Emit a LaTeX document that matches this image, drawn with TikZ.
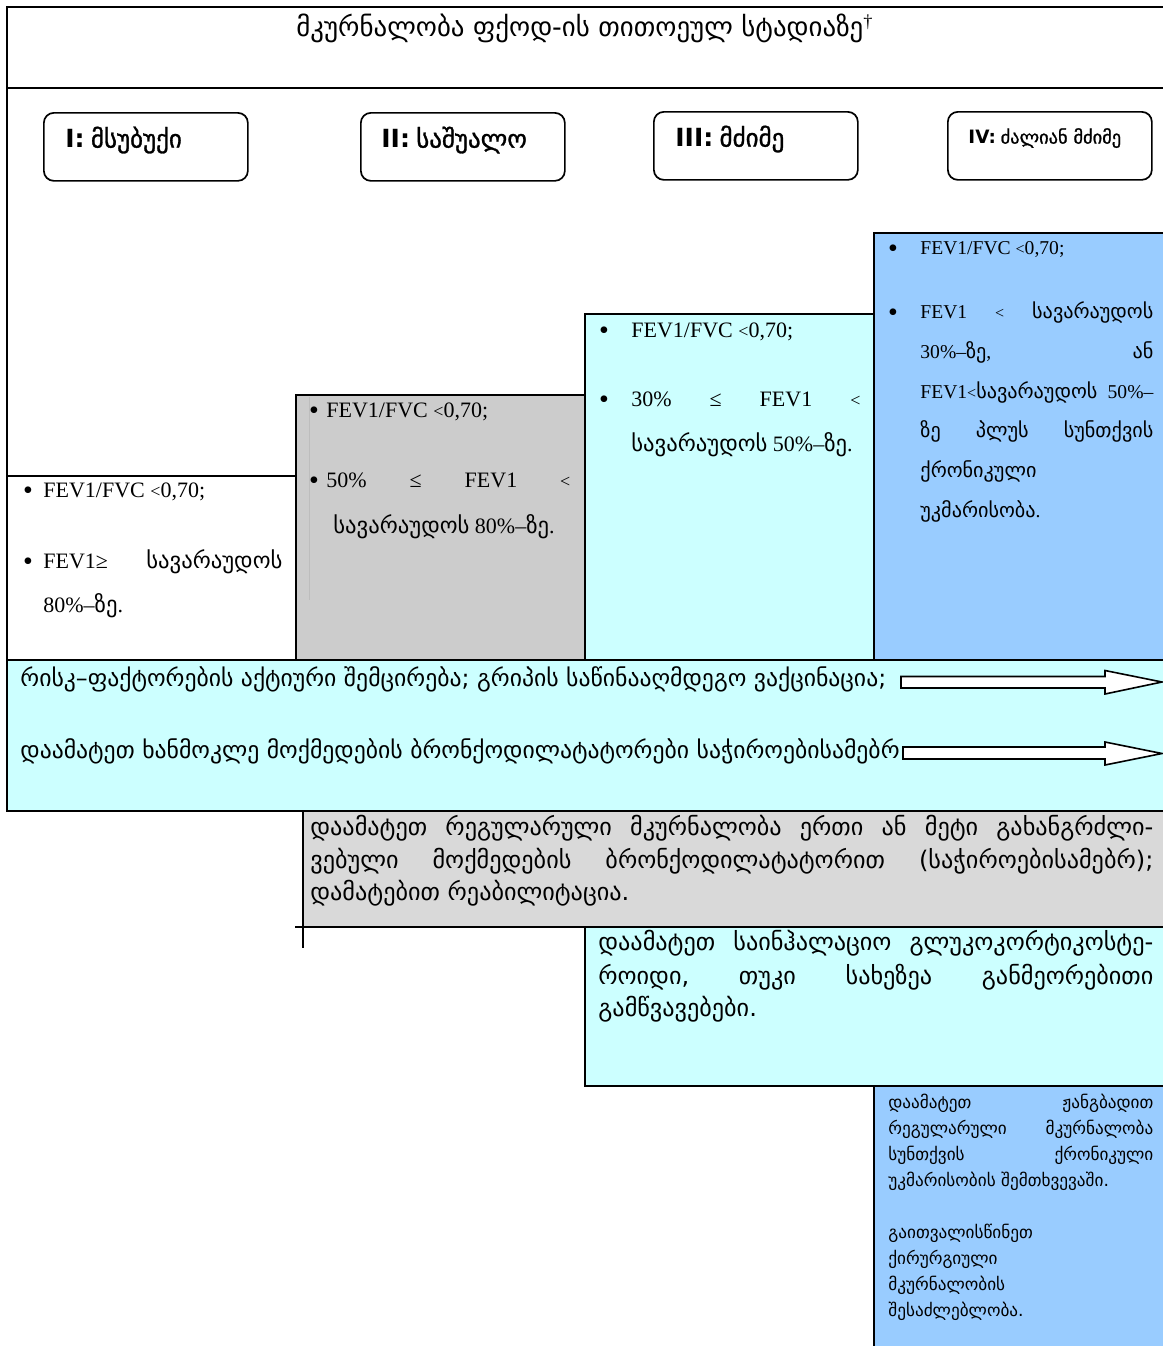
\documentclass[tikz,border=0pt]{standalone}
\usepackage{fontspec}
\setmainfont{Liberation Serif}
\newfontfamily\geo[Scale=1.03]{DejaVu Sans}
\newfontfamily\labsans{DejaVu Sans}
\newfontfamily\labgeo[BoldFont={DejaVu Sans},BoldFeatures={FakeBold=1.2}]{DejaVu Sans}
\definecolor{cellgray}{HTML}{CCCCCC}
\definecolor{boxgray}{HTML}{D9D9D9}
\definecolor{cellcyan}{HTML}{CCFFFF}
\definecolor{cellblue}{HTML}{99CCFF}
\definecolor{faintrule}{HTML}{BDBDBD}
\newcommand\kat[1]{{\geo #1}}
\newcommand\jline[2]{\hbox to #1{#2}}
\newcommand\stagename[2]{{\labsans\bfseries #1} {\labgeo\bfseries #2}}

\tikzset{
  rule/.style={line width=1pt, line cap=rect},
  stagebox/.style={draw, line width=0.85pt, rounded corners=5pt, minimum width=102pt,
    minimum height=34pt, anchor=north west, inner sep=0},
  stagelabel/.style={anchor=mid west, inner sep=0, font=\fontsize{12.5}{14}\selectfont},
  bodytext/.style={anchor=mid west, inner sep=0, yshift=-1pt, font=\fontsize{11}{13}\selectfont},
  bodysmall/.style={anchor=mid west, inner sep=0, yshift=-0.5pt, font=\fontsize{9.8}{12}\selectfont},
  bul/.style={anchor=center, inner sep=0, yshift=-1pt, font=\fontsize{14}{14}\selectfont},
  bandtext/.style={anchor=mid west, inner sep=0, font=\geo\fontsize{11.5}{13}\selectfont},
  boxtext/.style={anchor=mid west, inner sep=0, font=\geo\fontsize{11.75}{14}\selectfont},
  smalltext/.style={anchor=mid west, inner sep=0, font=\geo\fontsize{8.35}{10}\selectfont},
  fatarrow/.style={draw, fill=white, line width=0.8pt, line join=miter},
}

\begin{document}
\begin{tikzpicture}[x=0.5pt, y=-0.5pt]
\useasboundingbox (0,0) rectangle (1163,1346);
\clip (0,0) rectangle (1163,1346);

% coloured cells of the stage columns and treatment rows
\fill[cellgray] (296,395) rectangle (585,660);
\fill[cellcyan] (585,314) rectangle (874,660);
\fill[cellblue] (874,233) rectangle (1163,660);
\fill[cellcyan] (7,660) rectangle (1163,811);
\fill[boxgray] (303,811) rectangle (1163,927);
\fill[cellcyan] (585,927) rectangle (1163,1086);
\fill[cellblue] (874,1086) rectangle (1163,1346);
\draw[faintrule, line width=0.4pt] (309,397) -- (309,600);

% heading
\node[font=\fontsize{13.05}{15}\selectfont, inner sep=0] (title) at (585,28)
  {\kat{მკურნალობა ფქოდ-ის თითოეულ სტადიაზე}\textsuperscript{†}};

% stage boxes
\node[stagebox] (stI) at (43,112) {};
\node[stagebox] (stII) at (360,112) {};
\node[stagebox] (stIII) at (653,111) {};
\node[stagebox] (stIV) at (947,111) {};
\node[stagelabel] (labI) at (65,143) {\stagename{I:}{მსუბუქი}};
\node[stagelabel] (labII) at (381,143) {\stagename{II:}{საშუალო}};
\node[stagelabel] (labIII) at (675,142) {\stagename{III:}{მძიმე}};
\node[stagelabel, font=\fontsize{9.2}{11}\selectfont] (labIV) at (968,139)
  {\stagename{IV:}{ძალიან მძიმე}};

% stage I
\node[bul] (c1b1) at (28,491) {\textbullet};
\node[bodytext] (c1t1) at (43,491) {FEV1/FVC {\small<}0,70;};
\node[bul] (c1b2) at (28,562) {\textbullet};
\node[bodytext] (c1t2) at (43,562) {\jline{119.5pt}{FEV1≥\hfill\kat{სავარაუდოს}}};
\node[bodytext] (c1t3) at (43,606) {80\%–\kat{ზე}.};

% stage II
\node[bul] (c2b1) at (314,411) {\textbullet};
\node[bodytext] (c2t1) at (326,411) {FEV1/FVC {\small<}0,70;};
\node[bul] (c2b2) at (314,481) {\textbullet};
\node[bodytext] (c2t2) at (326,481) {\jline{122pt}{50\%\hfill ≤\hfill FEV1\hfill {\small<}}};
\node[bodytext] (c2t3) at (333,527) {\kat{სავარაუდოს} 80\%–\kat{ზე}.};

% stage III
\node[bul] (c3b1) at (604,331) {\textbullet};
\node[bodytext] (c3t1) at (631,331) {FEV1/FVC {\small<}0,70;};
\node[bul] (c3b2) at (604,400) {\textbullet};
\node[bodytext] (c3t2) at (631,400) {\jline{114.5pt}{30\%\hfill ≤\hfill FEV1\hfill {\small<}}};
\node[bodytext] (c3t3) at (631,445) {\kat{სავარაუდოს} 50\%–\kat{ზე}.};

% stage IV
\node[bul] (c4b1) at (893,249) {\textbullet};
\node[bodysmall] (c4t1) at (920,249) {FEV1/FVC {\footnotesize<}0,70;};
\node[bul] (c4b2) at (893,313) {\textbullet};
\node[bodysmall] (c4t2) at (920,313) {\jline{116.5pt}{FEV1\hfill {\footnotesize<}\hfill\kat{სავარაუდოს}}};
\node[bodysmall] (c4t3) at (920,353) {\jline{116.5pt}{30\%–\kat{ზე},\hfill\kat{ან}}};
\node[bodysmall] (c4t4) at (920,393) {\jline{116.5pt}{FEV1{\footnotesize<}\kat{სავარაუდოს}\hfill 50\%–}};
\node[bodysmall] (c4t5) at (920,432) {\jline{116.5pt}{\kat{ზე}\hfill\kat{პლუს}\hfill\kat{სუნთქვის}}};
\node[bodysmall] (c4t6) at (920,472) {\kat{ქრონიკული}};
\node[bodysmall] (c4t7) at (920,512) {\kat{უკმარისობა}.};

% treatment common to all stages
\node[bandtext] (risk) at (20,682)
  {რისკ–ფაქტორების აქტიური შემცირება; გრიპის საწინააღმდეგო ვაქცინაცია;};
\node[bandtext] (sabr) at (20,754)
  {დაამატეთ ხანმოკლე მოქმედების ბრონქოდილატატორები საჭიროებისამებრ.};

% long-acting bronchodilators, from stage II
\node[boxtext] (ld1) at (310,831) {\jline{421.5pt}{დაამატეთ\hfill რეგულარული\hfill მკურნალობა\hfill ერთი\hfill ან\hfill მეტი\hfill გახანგრძლი-}};
\node[boxtext] (ld2) at (310,864) {\jline{421.5pt}{ვებული\hfill მოქმედების\hfill ბრონქოდილატატორით\hfill (საჭიროებისამებრ);}};
\node[boxtext] (ld3) at (310,896) {დამატებით რეაბილიტაცია.};

% inhaled corticosteroids, from stage III
\node[boxtext] (ics1) at (598,946) {\jline{277.5pt}{დაამატეთ\hfill საინჰალაციო\hfill გლუკოკორტიკოსტე-}};
\node[boxtext] (ics2) at (598,980) {\jline{277.5pt}{როიდი,\hfill თუკი\hfill სახეზეა\hfill განმეორებითი}};
\node[boxtext] (ics3) at (598,1012) {გამწვავებები.};

% oxygen and surgery, stage IV
\node[smalltext] (ox1) at (888,1104) {\jline{132.5pt}{დაამატეთ\hfill ჟანგბადით}};
\node[smalltext] (ox2) at (888,1130) {\jline{132.5pt}{რეგულარული\hfill მკურნალობა}};
\node[smalltext] (ox3) at (888,1156) {\jline{132.5pt}{სუნთქვის\hfill ქრონიკული}};
\node[smalltext] (ox4) at (888,1182) {უკმარისობის შემთხვევაში.};
\node[smalltext] (sg1) at (888,1234) {გაითვალისწინეთ};
\node[smalltext] (sg2) at (888,1260) {ქირურგიული};
\node[smalltext] (sg3) at (888,1286) {მკურნალობის};
\node[smalltext] (sg4) at (888,1312) {შესაძლებლობა.};

% table rules
\draw[rule] (7,7) -- (1170,7);
\draw[rule] (7,88) -- (1170,88);
\draw[rule] (7,7) -- (7,811);
\draw[rule] (7,476) -- (296,476);
\draw[rule] (296,395) -- (585,395);
\draw[rule] (585,314) -- (874,314);
\draw[rule] (874,233) -- (1170,233);
\draw[rule] (296,395) -- (296,660);
\draw[rule] (585,314) -- (585,660);
\draw[rule] (874,233) -- (874,660);
\draw[rule] (7,660) -- (1170,660);
\draw[rule] (7,811) -- (1170,811);
\draw[rule] (303,811) -- (303,947);
\draw[rule] (296,927) -- (1170,927);
\draw[rule] (585,927) -- (585,1086);
\draw[rule] (585,1086) -- (1170,1086);
\draw[rule] (874,1086) -- (874,1350);

% block arrows running through all stages
\draw[fatarrow] (901,676.5) -- (1105,676.5) -- (1105,670.5) -- (1162,682)
  -- (1105,694) -- (1105,688) -- (901,688) -- cycle;
\draw[fatarrow] (903,747) -- (1105,747) -- (1105,742) -- (1162,753.5)
  -- (1105,765) -- (1105,759) -- (903,759) -- cycle;
\end{tikzpicture}
\end{document}
